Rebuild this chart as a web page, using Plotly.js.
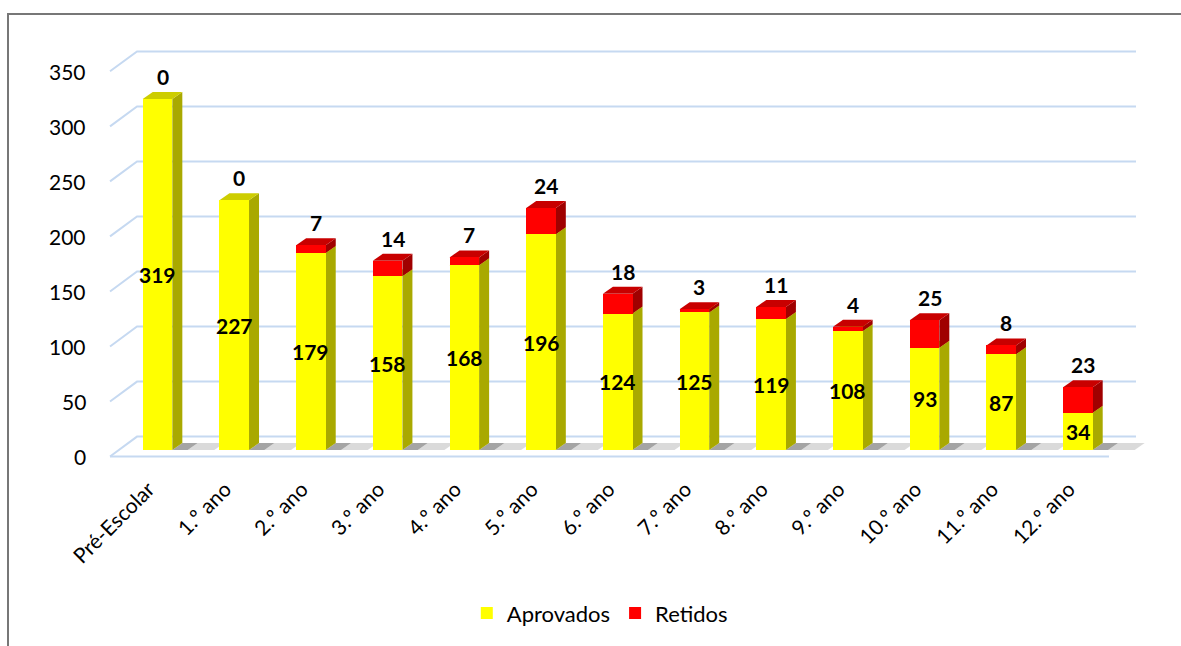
<!DOCTYPE html>
<html><head><meta charset="utf-8">
<script src="https://cdn.plot.ly/plotly-3.0.1.min.js"></script>
<style>
body{margin:0;background:#fff;overflow:hidden}
#chart{width:1181px;height:646px}
#frame{position:absolute;left:7px;top:13px;width:1300px;height:700px;border-left:2px solid #777;border-top:2px solid #777;pointer-events:none}
</style>
</head><body>
<div id="chart"></div><div id="frame"></div>
<script>
const categories = ['Pré-Escolar','1.º ano','2.º ano','3.º ano','4.º ano','5.º ano','6.º ano','7.º ano','8.º ano','9.º ano','10.º ano','11.º ano','12.º ano'];
const aprovados = [319,227,179,158,168,196,124,125,119,108,93,87,34];
const retidos   = [0,0,7,14,7,24,18,3,11,4,25,8,23];
const yTicks = [0,50,100,150,200,250,300,350];
const seriesNames = ['Aprovados','Retidos'];

const W=1181,H=646,L=100,R=31,T=30,B=184;
const xRange=[-0.75,12.94], yRange=[-9.04,381.66];
const pxX=(xRange[1]-xRange[0])/(W-L-R);
const pxY=(yRange[1]-yRange[0])/(H-T-B);
const barW=0.386;
const dX=10*pxX, dY=7*pxY;
const idx=categories.map((c,i)=>i);
const FONT='Lato, "Open Sans", sans-serif';
const face={
  yellow:{front:'#FFFF00',top:'#CDCD00',side:'#A9A900'},
  red:{front:'#FF0000',top:'#C80000',side:'#A00000'}
};
const gridCol='#C6D9F1';
const xFrontL=(110-157.5)/76.7, xBackL=(137-157.5)/76.7, xBackR=(1136-157.5)/76.7, xFrontR=(1109-157.5)/76.7;
const frontOff=-6.5*pxY, backOff=13.5*pxY;

const shapes=[];
yTicks.forEach(v=>{
  shapes.push({type:'path',layer:'below',xref:'x',yref:'y',
    path:`M${xFrontL},${v+frontOff} L${xBackL},${v+backOff} L${xBackR},${v+backOff}`,
    line:{color:gridCol,width:2}});
});
shapes.push({type:'path',layer:'below',xref:'x',yref:'y',
  path:`M${xFrontL},${frontOff} L${xFrontR},${frontOff}`,line:{color:gridCol,width:2}});
idx.forEach(i=>{
  const r=i+barW/2;
  shapes.push({type:'path',layer:'below',xref:'x',yref:'y',
    path:`M${r},0 L${r+dX},${dY} L${r+dX+0.2},${dY} L${r+0.2},0 Z`,
    fillcolor:'rgba(90,90,90,0.55)',line:{width:0}});
  shapes.push({type:'path',layer:'below',xref:'x',yref:'y',
    path:`M${r+0.2},0 L${r+0.2+dX},${dY} L${i+0.74+dX},${dY} L${i+0.74},0 Z`,
    fillcolor:'rgba(150,150,150,0.35)',line:{width:0}});
});
function faces(i,base,top,col){
  const l=i-barW/2, r=i+barW/2;
  shapes.push({type:'path',layer:'below',xref:'x',yref:'y',
    path:`M${r},${base} L${r+dX},${base+dY} L${r+dX},${top+dY} L${r},${top} Z`,
    fillcolor:col.side,line:{width:0}});
  shapes.push({type:'path',layer:'below',xref:'x',yref:'y',
    path:`M${l},${top} L${l+dX},${top+dY} L${r+dX},${top+dY} L${r},${top} Z`,
    fillcolor:col.top,line:{width:0}});
}
idx.forEach(i=>{ if(aprovados[i]>0) faces(i,0,aprovados[i],face.yellow); });
idx.forEach(i=>{ if(retidos[i]>0) faces(i,aprovados[i],aprovados[i]+retidos[i],face.red); });

const annotations=[];
yTicks.forEach(v=>{
  annotations.push({x:(88-L)/(W-L-R),y:v,xref:'paper',yref:'y',text:String(v),showarrow:false,
    font:{family:FONT,size:21,color:'#000'},xanchor:'right',yanchor:'middle',yshift:-6.5});
});
idx.forEach(i=>{
  annotations.push({x:i,y:aprovados[i]/2,xref:'x',yref:'y',text:String(aprovados[i]),showarrow:false,
    font:{family:FONT,size:21,color:'#000',weight:'bold'},xanchor:'center',yanchor:'middle'});
  annotations.push({x:i,y:aprovados[i]+retidos[i],xref:'x',yref:'y',text:String(retidos[i]),showarrow:false,
    font:{family:FONT,size:21,color:'#000',weight:'bold'},xanchor:'center',yanchor:'bottom',xshift:5,yshift:8});
});

const traces=[
  {type:'bar',name:seriesNames[0],x:idx,y:aprovados,width:barW,marker:{color:face.yellow.front,line:{width:0}},hoverinfo:'skip'},
  {type:'bar',name:seriesNames[1],x:idx,y:retidos,width:barW,marker:{color:face.red.front,line:{width:0}},hoverinfo:'skip'}
];
const layout={
  width:W,height:H,margin:{l:L,r:R,t:T,b:B},
  paper_bgcolor:'#fff',plot_bgcolor:'rgba(0,0,0,0)',
  barmode:'stack',showlegend:true,
  font:{family:FONT,size:21,color:'#000'},
  xaxis:{range:xRange,tickmode:'array',tickvals:idx,ticktext:categories,tickangle:-45,
    showgrid:false,zeroline:false,showline:false,ticks:'',tickfont:{family:FONT,size:21,color:'#000'},
    ticklabelstandoff:12,ticklabelshift:-9},
  yaxis:{range:yRange,showticklabels:false,showgrid:false,zeroline:false,showline:false,ticks:''},
  legend:{orientation:'h',x:0.476,xanchor:'center',y:(462-616)/432,yanchor:'middle',traceorder:'normal',
    font:{family:FONT,size:22,color:'#000'},itemclick:false},
  shapes:shapes,annotations:annotations
};
Plotly.newPlot('chart',traces,layout,{displayModeBar:false,staticPlot:true});
</script>
</body></html>
